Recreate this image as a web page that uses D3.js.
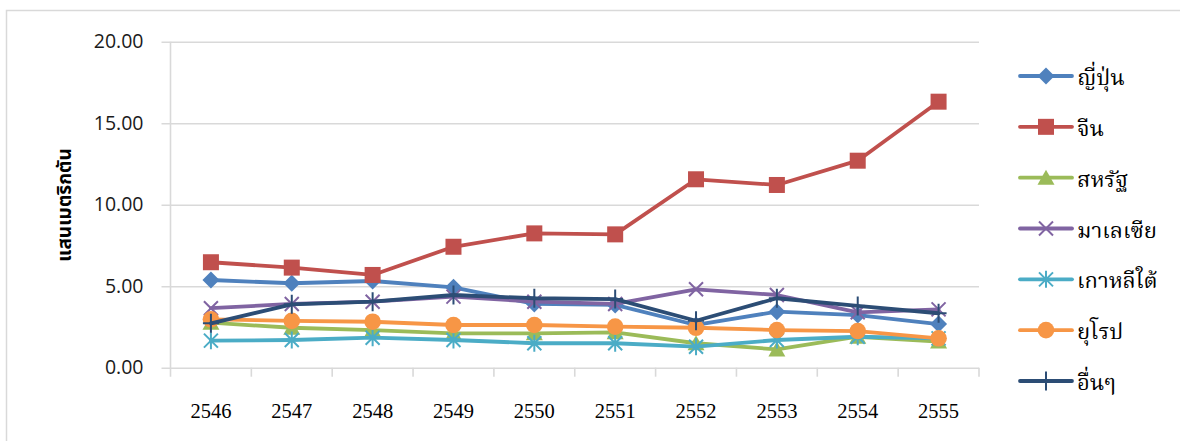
<!DOCTYPE html>
<html>
<head>
<meta charset="utf-8">
<script src="https://cdn.jsdelivr.net/npm/d3@7"></script>
<style>
  html, body { margin: 0; padding: 0; background: #fff; }
  svg { display: block; }
</style>
</head>
<body>
<div id="chart"></div>
<script>
// Years (Buddhist Era) along the category axis
const years = ["2546", "2547", "2548", "2549", "2550", "2551", "2552", "2553", "2554", "2555"];

// Series names as shown in the legend
const seriesNames = ["ญี่ปุ่น", "จีน", "สหรัฐ", "มาเลเซีย", "เกาหลีใต้", "ยุโรป", "อื่นๆ"];

// Values in hundred-thousand metric tons, one array per series
const japan    = [5.38, 5.18, 5.32, 4.93, 3.91, 3.85, 2.62, 3.44, 3.23, 2.68];
const china    = [6.47, 6.14, 5.69, 7.42, 8.24, 8.18, 11.56, 11.21, 12.70, 16.32];
const usa      = [2.76, 2.45, 2.31, 2.11, 2.11, 2.17, 1.50, 1.12, 1.90, 1.60];
const malaysia = [3.65, 3.91, 4.05, 4.36, 4.05, 3.91, 4.81, 4.46, 3.40, 3.58];
const korea    = [1.66, 1.70, 1.84, 1.70, 1.50, 1.50, 1.29, 1.70, 1.90, 1.80];
const europe   = [2.97, 2.87, 2.82, 2.62, 2.62, 2.52, 2.45, 2.31, 2.25, 1.80];
const others   = [2.72, 3.89, 4.05, 4.46, 4.26, 4.21, 2.88, 4.26, 3.79, 3.34];

// Value-axis tick labels
const yTicks = [0, 5, 10, 15, 20];
const yTitle = "แสนเมตริกตัน";

const seriesValues = [japan, china, usa, malaysia, korea, europe, others];
const colors  = ["#4F81BD", "#C0504D", "#9BBB59", "#8064A2", "#4BACC6", "#F79646", "#2C4D75"];
const markers = ["diamond", "square", "triangle", "cross", "asterisk", "circle", "plus"];

const W = 1180, H = 441;
const plot = { left: 170.5, right: 979, top: 41.7, bottom: 367.7 };

const svg = d3.select("#chart").append("svg")
  .attr("width", W).attr("height", H);

// Chart area frame
svg.append("rect")
  .attr("x", 6.5).attr("y", 10.5)
  .attr("width", W + 10).attr("height", H + 10)
  .attr("fill", "#fff").attr("stroke", "#D9D9D9").attr("stroke-width", 1.5);

const x = d3.scaleBand().domain(years).range([plot.left, plot.right]);
const y = d3.scaleLinear().domain([0, 20]).range([plot.bottom, plot.top]);

// Horizontal gridlines plus outward tick marks on the value axis
const yAxis = d3.axisLeft(y).tickValues(yTicks).tickSize(-(plot.right - plot.left)).tickPadding(18)
  .tickFormat(d3.format(".2f"));
const gy = svg.append("g").attr("transform", `translate(${plot.left},0)`).call(yAxis);
gy.select(".domain").remove();
gy.selectAll(".tick line")
  .attr("x1", -9)
  .attr("stroke", "#D9D9D9").attr("stroke-width", 1.6);
gy.selectAll(".tick text")
  .attr("font-family", "'Open Sans', 'Noto Sans', sans-serif")
  .attr("font-size", 19.5).attr("fill", "#1a1a1a")
  .attr("x", -27);

// Vertical axis line
svg.append("line")
  .attr("x1", plot.left).attr("x2", plot.left)
  .attr("y1", plot.top).attr("y2", plot.bottom + 9)
  .attr("stroke", "#D9D9D9").attr("stroke-width", 1.6);

// Category axis: tick marks at category boundaries
const boundaries = years.map(d => x(d)).concat([plot.right]);
svg.append("g").selectAll("line").data(boundaries.slice(1)).join("line")
  .attr("x1", d => d).attr("x2", d => d)
  .attr("y1", plot.bottom).attr("y2", plot.bottom + 9)
  .attr("stroke", "#D9D9D9").attr("stroke-width", 1.6);

const xAxis = d3.axisBottom(x).tickSize(0).tickPadding(0);
const gx = svg.append("g").attr("transform", `translate(0,${plot.bottom})`).call(xAxis);
gx.select(".domain").remove();
gx.selectAll(".tick text")
  .attr("font-family", "'Liberation Serif', 'Times New Roman', serif")
  .attr("font-size", 20.5).attr("fill", "#000")
  .attr("dy", 0).attr("y", 50);

// Value-axis title
svg.append("text")
  .attr("transform", "translate(71,205) rotate(-90)")
  .attr("text-anchor", "middle")
  .attr("font-family", "'Noto Sans Thai', 'Noto Sans', sans-serif")
  .attr("font-weight", "bold").attr("font-size", 19)
  .attr("fill", "#000")
  .text(yTitle);

// Marker shapes
function drawMarker(g, type, color) {
  switch (type) {
    case "diamond":
      g.append("path").attr("d", "M0,-8.5L8.5,0L0,8.5L-8.5,0Z").attr("fill", color);
      break;
    case "square":
      g.append("rect").attr("x", -8).attr("y", -8).attr("width", 16).attr("height", 16).attr("fill", color);
      break;
    case "triangle":
      g.append("path").attr("d", "M0,-8L8.5,7L-8.5,7Z").attr("fill", color);
      break;
    case "circle":
      g.append("circle").attr("r", 8.3).attr("fill", color);
      break;
    case "cross":
      g.append("path").attr("d", "M-7,-7L7,7M-7,7L7,-7")
        .attr("stroke", color).attr("stroke-width", 2).attr("fill", "none");
      break;
    case "asterisk":
      g.append("path").attr("d", "M-7,-7L7,7M-7,7L7,-7M0,-8.5L0,8.5")
        .attr("stroke", color).attr("stroke-width", 2).attr("fill", "none");
      break;
    case "plus":
      g.append("path").attr("d", "M-8,0L8,0M0,-9.5L0,9.5")
        .attr("stroke", color).attr("stroke-width", 2).attr("fill", "none");
      break;
  }
}

const line = d3.line()
  .x((d, i) => x(years[i]) + x.bandwidth() / 2)
  .y(d => y(d));

// Series lines with markers
seriesValues.forEach((vals, s) => {
  const g = svg.append("g");
  g.append("path").datum(vals)
    .attr("d", line)
    .attr("fill", "none")
    .attr("stroke", colors[s])
    .attr("stroke-width", 3.8)
    .attr("stroke-linejoin", "round")
    .attr("stroke-linecap", "round");
  vals.forEach((v, i) => {
    const m = g.append("g")
      .attr("transform", `translate(${x(years[i]) + x.bandwidth() / 2},${y(v)})`);
    drawMarker(m, markers[s], colors[s]);
  });
});

// Legend
const legend = svg.append("g");
const legendY = d3.scalePoint().domain(seriesNames).range([76, 381]);
seriesNames.forEach((name, s) => {
  const cy = legendY(name);
  legend.append("line")
    .attr("x1", 1020).attr("x2", 1072)
    .attr("y1", cy).attr("y2", cy)
    .attr("stroke", colors[s]).attr("stroke-width", 3.8).attr("stroke-linecap", "round");
  const m = legend.append("g").attr("transform", `translate(1046,${cy})`);
  drawMarker(m, markers[s], colors[s]);
  legend.append("text")
    .attr("x", 1077).attr("y", cy + 9)
    .attr("font-family", "'Noto Serif Thai', 'Liberation Serif', serif")
    .attr("font-size", 22).attr("fill", "#000")
    .text(name);
});
</script>
</body>
</html>
